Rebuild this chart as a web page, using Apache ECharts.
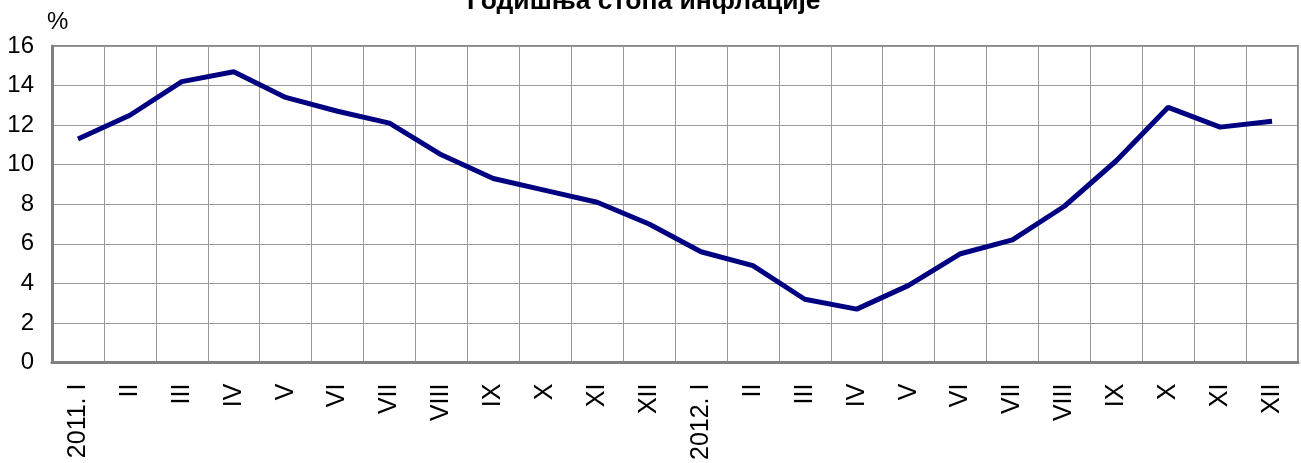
<!DOCTYPE html>
<html>
<head>
<meta charset="utf-8">
<script src="https://cdn.jsdelivr.net/npm/echarts@6/dist/echarts.min.js"></script>
<style>
html,body{margin:0;padding:0;background:#fff;}
#chart{width:1301px;height:463px;}
</style>
</head>
<body>
<div id="chart"></div>
<script>
const titleText = 'Годишња стопа инфлације';
const categories = ['2011. I','II','III','IV','V','VI','VII','VIII','IX','X','XI','XII',
                    '2012. I','II','III','IV','V','VI','VII','VIII','IX','X','XI','XII'];
const inflation = [11.3,12.5,14.2,14.7,13.4,12.7,12.1,10.5,9.3,8.7,8.1,7.0,
                   5.6,4.9,3.2,2.7,3.9,5.5,6.2,7.9,10.2,12.9,11.9,12.2];
const yTicks = {min:0, max:16, interval:2};

const FONT = 'Liberation Sans, Arial, sans-serif';
const chart = echarts.init(document.getElementById('chart'), null, {renderer:'canvas'});
chart.setOption({
  animation:false,
  textStyle:{fontFamily:FONT},
  title:{
    text:titleText, left:462, top:-17,
    textStyle:{fontSize:26.5, fontWeight:'bold', color:'#000', fontFamily:FONT}
  },
  grid:{left:52, right:3, top:46, bottom:98, show:true, borderColor:'#888', borderWidth:2, backgroundColor:'transparent'},
  xAxis:{
    type:'category', data:categories, boundaryGap:true,
    axisLine:{lineStyle:{color:'#808080', width:3}},
    axisTick:{show:false},
    axisLabel:{rotate:90, fontSize:25, color:'#000', margin:21, interval:0, fontFamily:FONT},
    splitLine:{show:true, lineStyle:{color:'#999', width:1}}
  },
  yAxis:{
    type:'value', min:yTicks.min, max:yTicks.max, interval:yTicks.interval,
    name:'%', nameGap:12,
    nameTextStyle:{fontSize:24, color:'#000', align:'left', padding:[0,0,0,-5], fontFamily:FONT},
    axisLine:{show:true, lineStyle:{color:'#808080', width:3}},
    axisTick:{show:false},
    axisLabel:{fontSize:24, color:'#000', margin:18, fontFamily:FONT},
    splitLine:{show:true, lineStyle:{color:'#999', width:1}}
  },
  series:[{
    type:'line', data:inflation, symbol:'none',
    lineStyle:{color:'#000080', width:5}
  }]
});
</script>
</body>
</html>
